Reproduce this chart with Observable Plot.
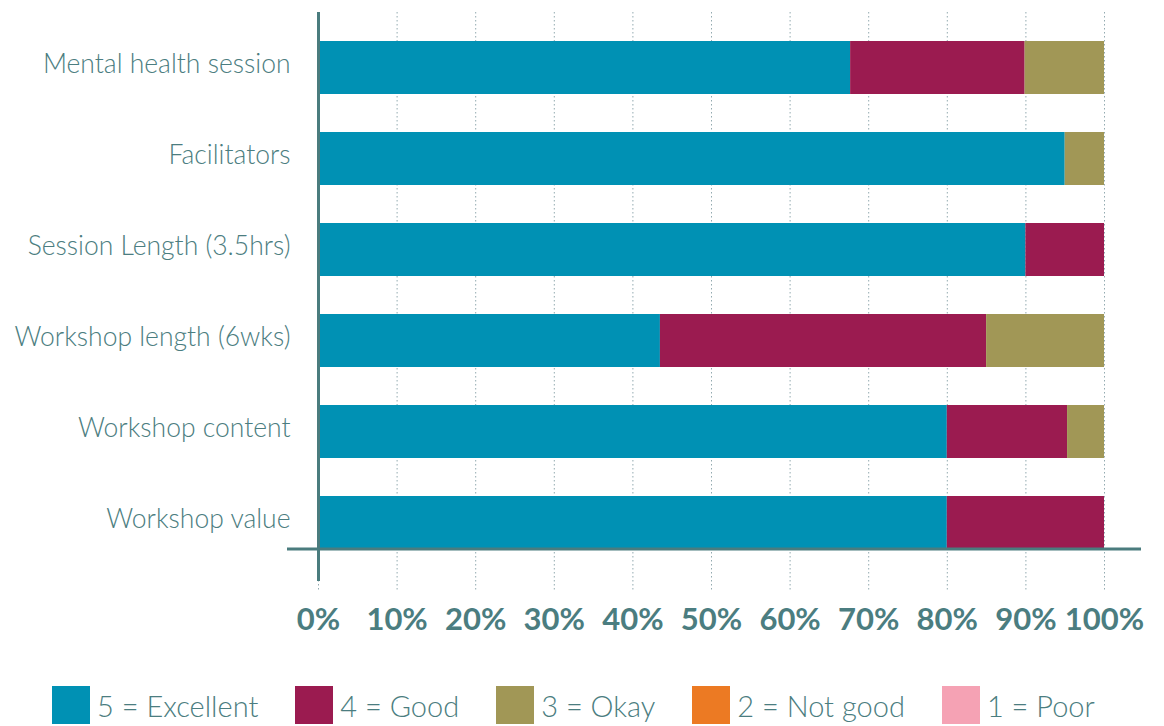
<!DOCTYPE html>
<html>
<head>
<meta charset="utf-8">
<script src="https://cdn.jsdelivr.net/npm/d3@7"></script>
<script src="https://cdn.jsdelivr.net/npm/@observablehq/plot@0.6"></script>
<style>
  html, body { margin: 0; padding: 0; background: #fff; }
  #chart { width: 1164px; }
  .legend { display: flex; align-items: center; gap: 37px; padding-left: 52px; margin-top: 36px;
    font-family: "Lato", sans-serif; font-weight: 300; font-size: 29px; color: #4b7d80; }
  .legend .item { display: flex; align-items: center; gap: 7px; }
  .legend .sw { width: 38px; height: 38px; display: inline-block; }
</style>
</head>
<body>
<div id="chart"></div>
<script>
const questions = ["Mental health session", "Facilitators", "Session Length (3.5hrs)", "Workshop length (6wks)", "Workshop content", "Workshop value"];
const ratings = ["5 = Excellent", "4 = Good", "3 = Okay", "2 = Not good", "1 = Poor"];
const colors = ["#0091b4", "#9b1b50", "#a19756", "#ec7a23", "#f5a2b4"];
const excellent = [67.7, 95, 90, 43.5, 80, 80];
const good      = [22.2, 0, 10, 41.5, 15.3, 20];
const okay      = [10.1, 5, 0, 15, 4.7, 0];
const notGood   = [0, 0, 0, 0, 0, 0];
const poor      = [0, 0, 0, 0, 0, 0];
const xTicks = [0, 10, 20, 30, 40, 50, 60, 70, 80, 90, 100];

const series = [excellent, good, okay, notGood, poor];
const data = [];
questions.forEach((q, i) => {
  series.forEach((s, j) => data.push({question: q, rating: ratings[j], value: s[i], order: j}));
});

const textColor = "#4b7d80";
const axisColor = "#4a7c7e";

const chart = Plot.plot({
  width: 1164,
  height: 650,
  marginLeft: 318,
  marginRight: 60,
  marginTop: 12,
  marginBottom: 60,
  style: {fontFamily: "Lato, sans-serif", color: textColor, background: "#fff"},
  x: {domain: [0, 100]},
  y: {domain: questions, range: [39, 551], paddingInner: 0.42, paddingOuter: 0},
  color: {domain: ratings, range: colors},
  marks: [
    Plot.gridX(xTicks, {stroke: "#93aab0", strokeOpacity: 1, strokeWidth: 1, strokeDasharray: "1.5,2.5"}),
    Plot.barX(data, Plot.stackX({x: "value", y: "question", fill: "rating", order: "order"})),
    Plot.ruleX([0], {stroke: axisColor, strokeWidth: 3, insetBottom: 9}),
    Plot.axisX(xTicks, {tickSize: 0, tickPadding: 17, tickFormat: d => d + "%", fontSize: 31, fontWeight: "bold", fill: textColor, label: null}),
    Plot.axisY({tickSize: 0, tickPadding: 28, dy: -3, fontSize: 26.5, fontWeight: 300, fill: textColor, label: null})
  ]
});

// horizontal baseline under the last bar, derived from the scales
const ys = chart.scale("y"), xs = chart.scale("x");
const yBase = ys.apply(questions[questions.length - 1]) + ys.bandwidth;
d3.select(chart).append("line")
  .attr("x1", xs.apply(0) - 31).attr("x2", xs.apply(100) + 37)
  .attr("y1", yBase).attr("y2", yBase)
  .attr("stroke", axisColor).attr("stroke-width", 3);

document.getElementById("chart").appendChild(chart);

const legend = d3.select("body").append("div").attr("class", "legend");
ratings.forEach((r, i) => {
  const it = legend.append("div").attr("class", "item");
  it.append("span").attr("class", "sw").style("background", colors[i]);
  it.append("span").text(r);
});
</script>
</body>
</html>
